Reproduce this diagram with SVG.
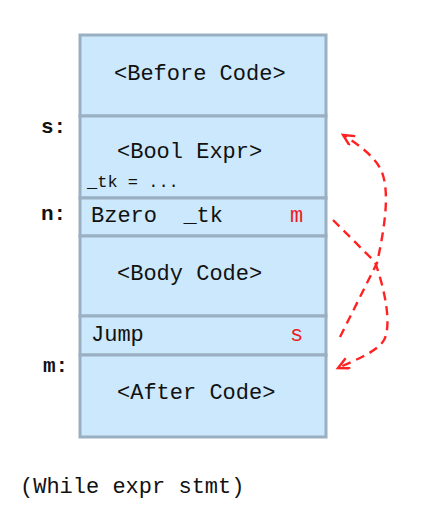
<svg xmlns="http://www.w3.org/2000/svg" width="423" height="523" viewBox="0 0 423 523">
  <style>
    .cell { fill: #cbe8fc; stroke: #9aafc2; stroke-width: 3; }
    .code { font-family: "Liberation Mono", "Courier New", monospace; font-size: 22px; fill: #111; white-space: pre; }
    .small { font-size: 17px; }
    .lbl { font-family: "Liberation Mono", "Courier New", monospace; font-size: 21px; font-weight: bold; fill: #111; }
    .tgt { fill: #ee1c1c; }
    .jump { fill: none; stroke: #ff2222; stroke-width: 2.4; stroke-dasharray: 9 6; }
  </style>
  <defs>
    <marker id="chev" markerUnits="userSpaceOnUse" markerWidth="16" markerHeight="16" refX="12" refY="6" orient="auto">
      <path d="M1,0.5 L12,6 L1,11.5" fill="none" stroke="#ff2222" stroke-width="2.4"/>
    </marker>
  </defs>

  <rect width="423" height="523" fill="#ffffff"/>

  <g id="before">
    <rect class="cell" x="80" y="35" width="246" height="81"/>
    <text class="code" x="114" y="80">&lt;Before Code&gt;</text>
  </g>
  <g id="bool">
    <rect class="cell" x="80" y="116" width="246" height="82"/>
    <text class="code" x="117" y="158">&lt;Bool Expr&gt;</text>
    <text class="code small" x="87" y="187">_tk = ...</text>
    <text class="lbl" x="41" y="133">s:</text>
  </g>
  <g id="bzero">
    <rect class="cell" x="80" y="198" width="246" height="38"/>
    <text class="code" x="91" y="222" xml:space="preserve">Bzero  _tk</text>
    <text class="code tgt" x="290" y="222">m</text>
    <text class="lbl" x="41" y="220">n:</text>
  </g>
  <g id="body">
    <rect class="cell" x="80" y="236" width="246" height="80"/>
    <text class="code" x="117" y="280">&lt;Body Code&gt;</text>
  </g>
  <g id="jump">
    <rect class="cell" x="80" y="316" width="246" height="39"/>
    <text class="code" x="91" y="341">Jump</text>
    <text class="code tgt" x="290" y="341">s</text>
  </g>
  <g id="after">
    <rect class="cell" x="80" y="355" width="246" height="82"/>
    <text class="code" x="117" y="399">&lt;After Code&gt;</text>
    <text class="lbl" x="43" y="372">m:</text>
  </g>

  <g id="connectors">
    <!-- Jump s : back to the loop test -->
    <path class="jump" d="M340,337 L377,263 C383,235 392,190 380,168 C372,154 356,143 343,135" marker-end="url(#chev)"/>
    <!-- Bzero m : exit past the loop -->
    <path class="jump" d="M333,220 L375,262 C385,290 392,325 384,340 C377,352 355,360 338,368" marker-end="url(#chev)"/>
  </g>

  <text class="code" x="20" y="493">(While expr stmt)</text>
</svg>
